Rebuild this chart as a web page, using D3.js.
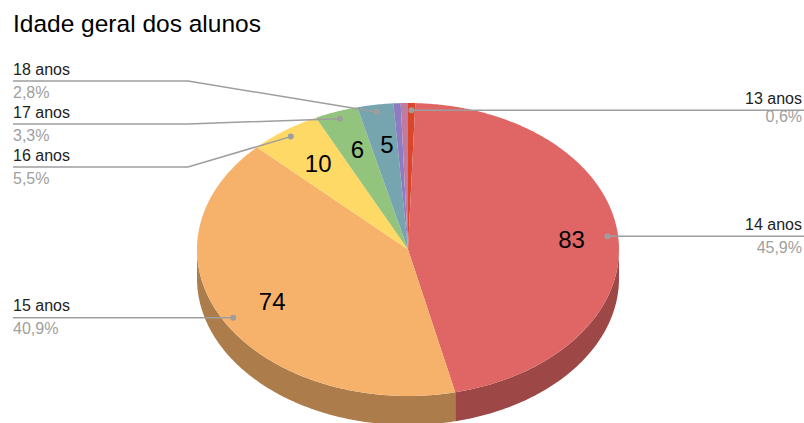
<!DOCTYPE html>
<html>
<head>
<meta charset="utf-8">
<script src="https://cdn.jsdelivr.net/npm/d3@7"></script>
<style>
  html, body { margin: 0; padding: 0; background: #fff; }
  svg { display: block; font-family: "Liberation Sans", Arial, sans-serif; }
</style>
</head>
<body>
<svg id="chart" width="804" height="423"></svg>
<script>
// Age distribution of students (count per age group)
const categories = ["13 anos", "14 anos", "15 anos", "16 anos", "17 anos", "18 anos", "19 anos", "20 anos"];
const values     = [1, 83, 74, 10, 6, 5, 1, 1];
const colors     = ["#d9472b", "#e06666", "#f6b26b", "#ffd966", "#93c47d", "#76a5af", "#8e7cc3", "#c27ba0"];
const labelled   = [true, true, true, true, true, true, false, false];
const title      = "Idade geral dos alunos";

const svg = d3.select("#chart");
const W = 804;

// 3D pie geometry (top face is an ellipse, side extruded downward)
const cx = 408, cy = 249.5, rx = 211, ry = 146.5, depth = 29;

const total = d3.sum(values);
const pct = v => (v / total * 100).toFixed(1).replace(".", ",") + "%";

const pie = d3.pie().sort(null).value(d => d.value).startAngle(0).endAngle(2 * Math.PI);
const data = categories.map((c, i) => ({ name: c, value: values[i], color: colors[i], labelled: labelled[i], idx: i }));
const arcs = pie(data);

const ex = (a, k = 1) => cx + rx * k * Math.sin(a);
const ey = (a, k = 1) => cy - ry * k * Math.cos(a);

function arcPoints(a0, a1, dy = 0) {
  const n = Math.max(2, Math.ceil(Math.abs(a1 - a0) / 0.01));
  const pts = [];
  for (let i = 0; i <= n; i++) {
    const a = a0 + (a1 - a0) * i / n;
    pts.push([ex(a), ey(a) + dy]);
  }
  return pts;
}

const darken = c => {
  const col = d3.rgb(c);
  return d3.rgb(col.r * 0.7, col.g * 0.7, col.b * 0.7).formatHex();
};

// Side walls: only the front half (angles between PI/2 and 3PI/2) is visible
const sides = svg.append("g");
arcs.forEach(d => {
  const a0 = Math.max(d.startAngle, Math.PI / 2);
  const a1 = Math.min(d.endAngle, 3 * Math.PI / 2);
  if (a1 <= a0) return;
  const top = arcPoints(a0, a1, 0);
  const bottom = arcPoints(a1, a0, depth);
  sides.append("path")
    .attr("d", "M" + top.concat(bottom).map(p => p.join(",")).join("L") + "Z")
    .attr("fill", darken(d.data.color));
});

// Top faces
const tops = svg.append("g");
arcs.forEach(d => {
  const pts = [[cx, cy]].concat(arcPoints(d.startAngle, d.endAngle, 0));
  tops.append("path")
    .attr("d", "M" + pts.map(p => p.join(",")).join("L") + "Z")
    .attr("fill", d.data.color);
});

// Values inside the larger slices
const valueLabels = svg.append("g");
arcs.filter(d => d.data.value >= 5).forEach(d => {
  const m = (d.startAngle + d.endAngle) / 2;
  valueLabels.append("text")
    .attr("x", ex(m, 0.76) + 4)
    .attr("y", ey(m, 0.726))
    .attr("text-anchor", "middle")
    .attr("dominant-baseline", "central")
    .attr("font-size", 24)
    .attr("fill", "#000")
    .text(d.data.value);
});

// Leader lines and outside labels
const lineColor = "#9e9e9e";
const lead = svg.append("g");
const leftSlots = [167, 124, 81]; // stacked label rows on the upper left
let slot = 0;
arcs.filter(d => d.data.labelled).forEach(d => {
  const m = (d.startAngle + d.endAngle) / 2;
  const px = ex(m, 0.95), py = ey(m, 0.95);
  const right = Math.sin(m) > 0;
  let lineY, path;
  if (right) {
    lineY = py;
    path = `M${px},${py}L${W},${py}`;
  } else if (m > Math.PI * 1.6) {
    lineY = leftSlots[slot++];
    path = `M${px},${py}L188,${lineY}L13,${lineY}`;
  } else {
    lineY = py;
    path = `M${px},${py}L13,${py}`;
  }
  lead.append("path").attr("d", path).attr("fill", "none")
    .attr("stroke", lineColor).attr("stroke-width", 1.5);
  lead.append("circle").attr("cx", px).attr("cy", py).attr("r", 3).attr("fill", lineColor);

  const tx = right ? 802 : 13;
  const anchor = right ? "end" : "start";
  lead.append("text")
    .attr("x", tx).attr("y", lineY - 6.5)
    .attr("text-anchor", anchor)
    .attr("font-size", 16).attr("fill", "#222")
    .text(d.data.name);
  lead.append("text")
    .attr("x", tx).attr("y", lineY + (d.data.idx === 0 ? 11.5 : 16.5))
    .attr("text-anchor", anchor)
    .attr("font-size", 16).attr("fill", "#a0a0a0")
    .text(pct(d.data.value));
});

// Title
svg.append("text")
  .attr("x", 13).attr("y", 32)
  .attr("font-size", 24.5).attr("fill", "#000")
  .text(title);
</script>
</body>
</html>
